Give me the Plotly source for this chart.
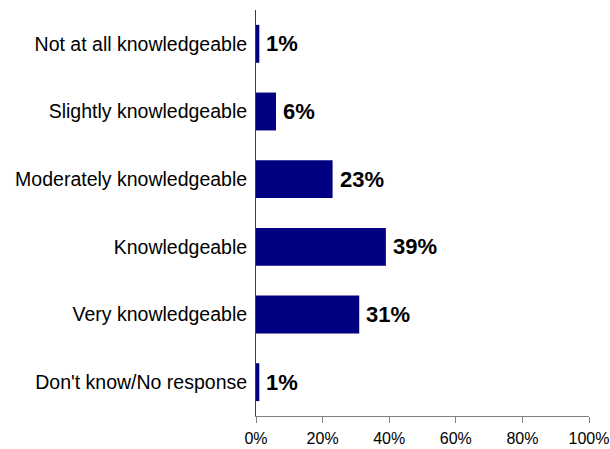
import plotly.graph_objects as go

# Self-rated knowledge level, share of respondents (%)
categories = [
    "Not at all knowledgeable",
    "Slightly knowledgeable",
    "Moderately knowledgeable",
    "Knowledgeable",
    "Very knowledgeable",
    "Don't know/No response",
]
shares = [1, 6, 23, 39, 31, 1]
tick_values = [0, 20, 40, 60, 80, 100]
tick_labels = ["0%", "20%", "40%", "60%", "80%", "100%"]

FONT = "Liberation Sans, Arial, sans-serif"

fig = go.Figure(
    go.Bar(
        x=shares,
        y=categories,
        orientation="h",
        marker=dict(color="#000080", line=dict(width=0)),
        width=0.56,
        hoverinfo="x+y",
    )
)

# value labels just right of each bar end
for cat, val in zip(categories, shares):
    fig.add_annotation(
        x=val,
        y=cat,
        text=f"<b>{val}%</b>",
        showarrow=False,
        xanchor="left",
        yanchor="middle",
        xshift=5,
        font=dict(family=FONT, size=22, color="#000000"),
    )

fig.update_layout(
    width=610,
    height=449,
    margin=dict(l=256, r=21, t=10, b=33),
    paper_bgcolor="white",
    plot_bgcolor="white",
    showlegend=False,
    font=dict(family=FONT, color="#000000"),
)

fig.update_xaxes(
    range=[0, 100],
    tickvals=tick_values,
    ticktext=tick_labels,
    tickfont=dict(size=16, color="#000000"),
    showgrid=False,
    zeroline=False,
    showline=True,
    linecolor="#808080",
    linewidth=1,
    ticks="outside",
    ticklen=6,
    tickcolor="#808080",
    tickwidth=1,
    ticklabelstandoff=2,
    automargin=False,
)

fig.update_yaxes(
    autorange="reversed",
    tickfont=dict(size=19.5, color="#000000"),
    showgrid=False,
    zeroline=False,
    showline=True,
    linecolor="#404040",
    linewidth=1,
    ticks="",
    ticklabelstandoff=4,
    automargin=False,
)

fig.write_html("out.html")
